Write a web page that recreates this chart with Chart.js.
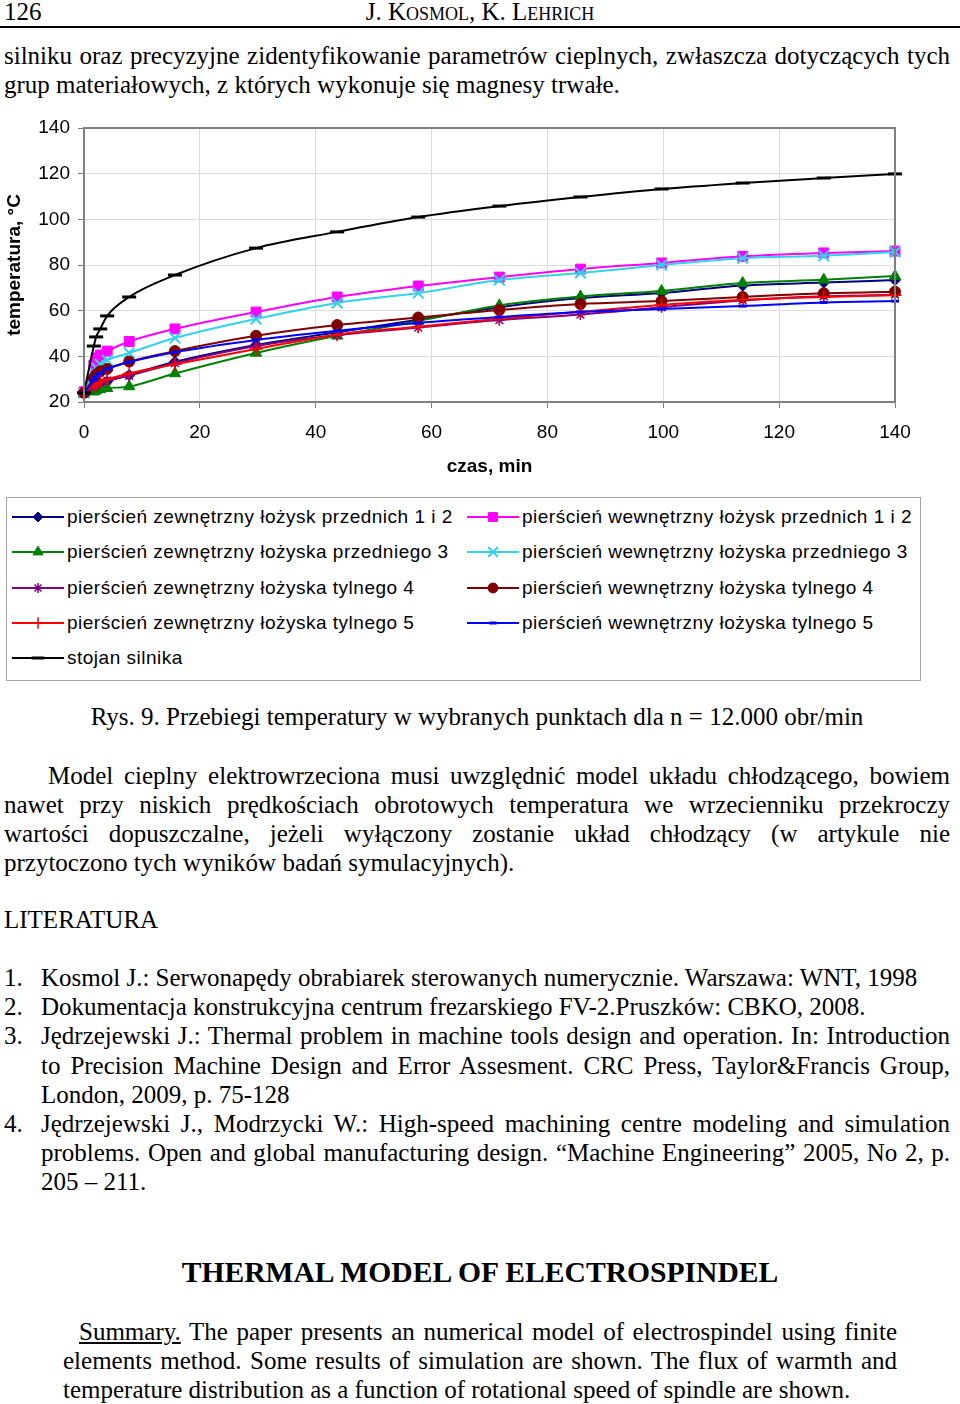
<!DOCTYPE html>
<html lang="pl">
<head>
<meta charset="utf-8">
<script src="https://cdn.jsdelivr.net/npm/chart.js@4.4.1/dist/chart.umd.min.js"></script>
<style>
    body { margin: 0; background: #fff; }
    #strona { position: relative; width: 960px; height: 1404px; overflow: hidden; font-family: "Liberation Serif", "Times New Roman", serif; font-size: 25px; color: #000; }
    .blok { position: absolute; line-height: 29px; }
    .just { text-align: justify; }
    #wykres { position: absolute; left: 0; top: 100px; }
    #legenda { position: absolute; left: 6px; top: 497px; width: 915px; height: 184px; border: 1px solid #a6a6a6; box-sizing: border-box; font-family: "Liberation Sans", Arial, sans-serif; }
    .poz { position: absolute; height: 22px; }
    .poz canvas { position: absolute; left: 0; top: 1px; }
    .poz span { position: absolute; left: 55px; top: 0; font-size: 19px; line-height: 22px; white-space: nowrap; letter-spacing: 0.5px; }
    .lit { position: absolute; left: 4px; width: 946px; line-height: 29.2px; }
    .lit div { padding-left: 37px; text-indent: -37px; text-align: justify; }
    .lit b { display: inline-block; width: 37px; text-indent: 0; font-weight: normal; }
</style>
</head>
<body>
<div id="strona">
    <div class="blok" style="left:4px; top:-3px;">126</div>
    <div class="blok" style="left:0; width:960px; top:-3px; text-align:center; font-variant: small-caps;">J. Kosmol, K. Lehrich</div>
    <div style="position:absolute; left:0; top:26px; width:960px; height:2px; background:#000;"></div>

    <div class="blok just" style="left:4px; width:946px; top:41px;">silniku oraz precyzyjne zidentyfikowanie parametrów cieplnych, zwłaszcza dotyczących tych grup materiałowych, z których wykonuje się magnesy trwałe.</div>

    <canvas id="wykres" width="960" height="390"></canvas>
    <div id="legenda"></div>

    <div class="blok" style="left:0; width:954px; top:702px; text-align:center;">Rys. 9. Przebiegi temperatury w wybranych punktach dla n = 12.000 obr/min</div>

    <div class="blok just" style="left:4px; width:946px; top:761px; text-indent:44px;">Model cieplny elektrowrzeciona musi uwzględnić model układu chłodzącego, bowiem nawet przy niskich prędkościach obrotowych temperatura we wrzecienniku przekroczy wartości dopuszczalne, jeżeli wyłączony zostanie układ chłodzący (w artykule nie przytoczono tych wyników badań symulacyjnych).</div>

    <div class="blok" style="left:4px; top:905px;">LITERATURA</div>

    <div class="lit" style="top:963px;">
        <div><b>1.</b>Kosmol J.: Serwonapędy obrabiarek sterowanych numerycznie. Warszawa: WNT, 1998</div>
        <div><b>2.</b>Dokumentacja konstrukcyjna centrum frezarskiego FV-2.Pruszków: CBKO, 2008.</div>
        <div><b>3.</b>Jędrzejewski J.: Thermal problem in machine tools design and operation. In: Introduction to Precision Machine Design and Error Assesment. CRC Press, Taylor&amp;Francis Group, London, 2009, p. 75-128</div>
        <div><b>4.</b>Jędrzejewski J., Modrzycki W.: High-speed machining centre modeling and simulation problems. Open and global manufacturing design. “Machine Engineering” 2005, No 2, p. 205 – 211.</div>
    </div>

    <div class="blok" style="left:0; width:960px; top:1255px; text-align:center; font-weight:bold; font-size:29.6px; line-height:35px;">THERMAL MODEL OF ELECTROSPINDEL</div>

    <div class="blok just" style="left:63px; width:834px; top:1317px; text-indent:16px;"><u>Summary.</u> The paper presents an numerical model of electrospindel using finite elements method. Some results of simulation are shown. The flux of warmth and temperature distribution as a function of rotational speed of spindle are shown.</div>
</div>

<script>
// czas w minutach (wspólny dla wszystkich serii)
const czas = [0, 1.7, 2.1, 2.8, 4, 7.8, 15.7, 29.7, 43.7, 57.7, 71.7, 85.7, 99.7, 113.7, 127.7, 140];

// temperatury, °C
const zew12  = [24, 26, 27, 28, 29, 31.8, 37.6, 45, 50.5, 56, 61.5, 65.5, 67.7, 71, 72.3, 73.4];
const wew12  = [24.5, 36.2, 39.3, 40.6, 42.3, 46.5, 52, 59.4, 66, 70.8, 74.7, 78.2, 80.9, 83.8, 85.3, 86.1];
const zew3   = [23.5, 24.5, 25, 25.5, 26, 26.8, 32.5, 41.5, 49, 55.5, 62.3, 66.2, 68.6, 72.1, 73.5, 75.2];
const wew3   = [24, 33, 35, 36.5, 38.3, 41.5, 48, 56.4, 63.4, 67.7, 73.4, 76.5, 80, 83, 84, 85.7];
const zew4   = [24, 26.5, 27.5, 28.5, 29.5, 31.5, 37, 44.5, 49.3, 52.6, 55.9, 58.3, 61.5, 64.5, 66.3, 67];
const wew4   = [24, 30.5, 32, 33.5, 34.5, 37.7, 42.3, 49, 53.7, 57, 60.3, 62.9, 64.2, 66, 67.6, 68.3];
const zew5   = [24.5, 27, 28, 29, 30, 32.5, 36.5, 43.2, 49.5, 53, 56.5, 59.5, 62.5, 64.8, 66, 66.8];
const wew5   = [24, 29.5, 31, 32.5, 34.5, 37.5, 41.8, 47.2, 51.2, 54.6, 57.2, 59.4, 60.7, 62, 63.6, 64.2];
const stojan = [24, 44.5, 48.5, 52, 57.7, 66, 75.6, 87.4, 94.5, 101, 105.8, 109.8, 113.3, 115.9, 118.1, 119.9];

const nazwy = [
    'pierścień zewnętrzny łożysk przednich 1 i 2',
    'pierścień wewnętrzny łożysk przednich 1 i 2',
    'pierścień zewnętrzny łożyska przedniego 3',
    'pierścień wewnętrzny łożyska przedniego 3',
    'pierścień zewnętrzny łożyska tylnego 4',
    'pierścień wewnętrzny łożyska tylnego 4',
    'pierścień zewnętrzny łożyska tylnego 5',
    'pierścień wewnętrzny łożyska tylnego 5',
    'stojan silnika'
];
const serie = [zew12, wew12, zew3, wew3, zew4, wew4, zew5, wew5, stojan];
const kolory = ['#000080', '#ff00ff', '#008000', '#2fd3ea', '#800080', '#800000', '#ff0000', '#0000ff', '#000000'];
const znaczniki = ['rectRot', 'rect', 'triangle', 'crossRot', 'star', 'circle', 'cross', 'line', 'line'];
const promienie = [5.5, 7, 6.5, 7.5, 5.5, 5.5, 6.5, 4, 7];
const grubosci = [1, 1, 1, 2, 1.5, 1, 1.5, 3, 3];

const zestawy = serie.map((s, i) => ({
    label: nazwy[i],
    data: s.map((v, k) => ({ x: czas[k], y: v })),
    borderColor: kolory[i],
    backgroundColor: kolory[i],
    borderWidth: 2,
    pointStyle: znaczniki[i],
    pointRadius: promienie[i],
    pointBorderWidth: grubosci[i],
    pointBorderColor: kolory[i],
    pointBackgroundColor: kolory[i],
    cubicInterpolationMode: 'monotone',
    clip: false
}));

// ramka obszaru wykresu
const ramka = {
    id: 'ramka',
    afterDraw(chart) {
        const a = chart.chartArea, c = chart.ctx;
        c.save();
        c.strokeStyle = '#808080';
        c.lineWidth = 2;
        c.strokeRect(a.left, a.top, a.right - a.left, a.bottom - a.top);
        c.restore();
    }
};

const czcionka = { family: '"Liberation Sans", Arial, sans-serif', size: 19 };

new Chart(document.getElementById('wykres').getContext('2d'), {
    type: 'line',
    data: { datasets: zestawy.slice().reverse() },
    options: {
        responsive: false,
        animation: false,
        layout: { padding: { top: 28, right: 65, left: 0, bottom: 0 } },
        plugins: { legend: { display: false }, tooltip: { enabled: false } },
        scales: {
            x: {
                type: 'linear', min: 0, max: 140,
                ticks: { stepSize: 20, color: '#000', font: czcionka, padding: 13, maxRotation: 0 },
                grid: { color: '#dcdcdc', tickColor: '#808080', tickLength: 6, lineWidth: 1 },
                border: { color: '#808080', width: 2 },
                title: { display: true, text: 'czas, min', color: '#000', font: { ...czcionka, weight: 'bold' }, padding: { top: 0, bottom: 12 } },
                afterFit(scale) { scale.height = 88; }
            },
            y: {
                min: 20, max: 140,
                ticks: { stepSize: 20, color: '#000', font: czcionka, padding: 8 },
                grid: { color: '#dcdcdc', tickColor: '#808080', tickLength: 6, lineWidth: 1 },
                border: { color: '#808080', width: 2 },
                title: { display: true, text: 'temperatura, °C', color: '#000', font: { ...czcionka, weight: 'bold' }, padding: { top: 3, bottom: 0 } },
                afterFit(scale) { scale.width = 84; }
            }
        }
    },
    plugins: [ramka]
});

// legenda w dwóch kolumnach, jak w Excelu
const legenda = document.getElementById('legenda');
nazwy.forEach((n, i) => {
    const kol = i % 2, wiersz = Math.floor(i / 2);
    const poz = document.createElement('div');
    poz.className = 'poz';
    poz.style.left = (kol ? 460 : 5) + 'px';
    poz.style.top = (8 + wiersz * 35.3) + 'px';
    const cv = document.createElement('canvas');
    cv.width = 52; cv.height = 20;
    const span = document.createElement('span');
    span.textContent = n;
    poz.appendChild(cv);
    poz.appendChild(span);
    legenda.appendChild(poz);

    const c = cv.getContext('2d');
    c.strokeStyle = kolory[i];
    c.fillStyle = kolory[i];
    c.lineWidth = 2;
    c.beginPath();
    c.moveTo(0, 10); c.lineTo(52, 10);
    c.stroke();
    c.lineWidth = grubosci[i];
    Chart.helpers.drawPoint(c, { pointStyle: znaczniki[i], radius: promienie[i] * 0.9, rotation: 0, borderWidth: grubosci[i] }, 26, 10);
});
</script>
</body>
</html>
